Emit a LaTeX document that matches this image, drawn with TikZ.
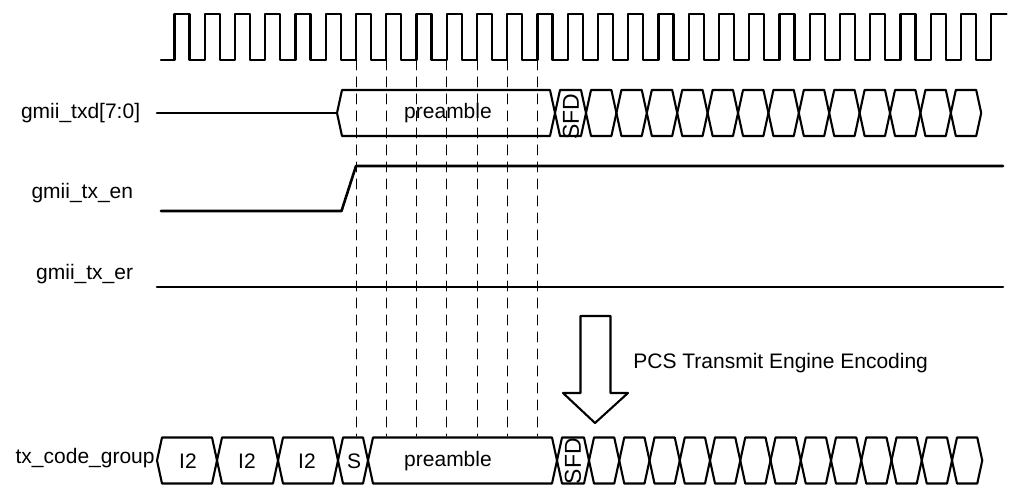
\documentclass[tikz,border=0pt]{standalone}
\usepackage{fontspec}
\setmainfont{Liberation Sans}

\begin{document}
\begin{tikzpicture}[
  x=0.5pt,
  y=-0.5pt,
  line cap=round,
  line join=round,
  clock line/.style={line width=1.1pt},
  signal line/.style={line width=1.3pt},
  bus line/.style={line width=1.05pt},
  strobe line/.style={line width=0.5pt,dash pattern=on 5pt off 3.5pt},
  signal label/.style={font=\fontsize{10.5}{12.6}\selectfont,inner sep=0pt,anchor=east},
  cell text/.style={font=\fontsize{10.5}{12.6}\selectfont,inner sep=0pt},
  sfd text/.style={font=\fontsize{11.5}{14}\selectfont,inner sep=0pt,rotate=90}
]
\useasboundingbox (0,0) rectangle (1010,485);

% Clock: rising edges every \Period from \ClkX, high for \Half.
\def\ClkX{174.5}
\def\Period{30.25}
\def\Half{15}
\def\ClkHi{14}
\def\ClkLo{60}
\def\Slant{5}
\def\BusH{23}

\newcommand{\BusCell}[3]{%
  \draw[bus line] (#1,#3) -- ({#1+\Slant},{#3-\BusH})
    -- ({#2-\Slant},{#3-\BusH}) -- (#2,#3)
    -- ({#2-\Slant},{#3+\BusH}) -- ({#1+\Slant},{#3+\BusH}) -- cycle;%
}

\draw[clock line] (161,\ClkLo)
  \foreach \k in {0,...,26} {
    -- ({\ClkX+\k*\Period},\ClkLo) |- ({\ClkX+\k*\Period+\Half},\ClkHi)
    |- ({\ClkX+(\k+1)*\Period},\ClkLo)
  } |- (1006.5,\ClkHi);

% Preamble clock edges.
\foreach \k in {6,...,12}
  \draw[strobe line] ({\ClkX+\k*\Period},\ClkLo) -- ({\ClkX+\k*\Period},436);

% gmii_txd[7:0]
\node[signal label] (txdLabel) at (140.5,113) {gmii\_txd[7:0]};
\draw[signal line] (157,113) -- (337,113);
\BusCell{337}{555}{113}
\BusCell{555}{586}{113}
\foreach \j in {0,...,12} {
  \pgfmathsetmacro{\xa}{586+\j*30.4}
  \pgfmathsetmacro{\xb}{586+(\j+1)*30.4}
  \BusCell{\xa}{\xb}{113}
}
\node[cell text] (txdPreamble) at (448,113) {preamble};
\node[sfd text] (txdSfd) at (571,117) {SFD};

% gmii_tx_en
\node[signal label] (enLabel) at (133.5,193) {gmii\_tx\_en};
\draw[signal line] (161,211) -- (341.5,211) -- ({\ClkX+6*\Period},166) -- (1003,166);

% gmii_tx_er
\node[signal label] (erLabel) at (133.5,274) {gmii\_tx\_er};
\draw[signal line] (157,287) -- (1003,287);

% Encoding arrow.
\draw[line width=1.05pt] (580.5,316) -- (610.5,316) -- (610.5,393) -- (628,393)
  -- (595,423) -- (563,393) -- (580.5,393) -- cycle;
\node[cell text,anchor=base west] (pcsLabel) at (633,368.3) {PCS Transmit Engine Encoding};

% tx_code_group
\node[signal label] (codeLabel) at (155,458) {tx\_code\_group};
\BusCell{157}{217}{460.5}
\BusCell{217}{278}{460.5}
\BusCell{278}{338}{460.5}
\BusCell{338}{368}{460.5}
\BusCell{368}{557}{460.5}
\BusCell{557}{589}{460.5}
\foreach \j in {0,...,12} {
  \pgfmathsetmacro{\xa}{589+\j*30.25}
  \pgfmathsetmacro{\xb}{589+(\j+1)*30.25}
  \BusCell{\xa}{\xb}{460.5}
}
\node[cell text] (idleA) at (188,461.5) {I2};
\node[cell text] (idleB) at (247,461.5) {I2};
\node[cell text] (idleC) at (307,461.5) {I2};
\node[cell text] (startS) at (354,461.5) {S};
\node[cell text] (codePreamble) at (448,461.5) {preamble};
\node[sfd text] (codeSfd) at (573,461) {SFD};

\end{tikzpicture}
\end{document}
